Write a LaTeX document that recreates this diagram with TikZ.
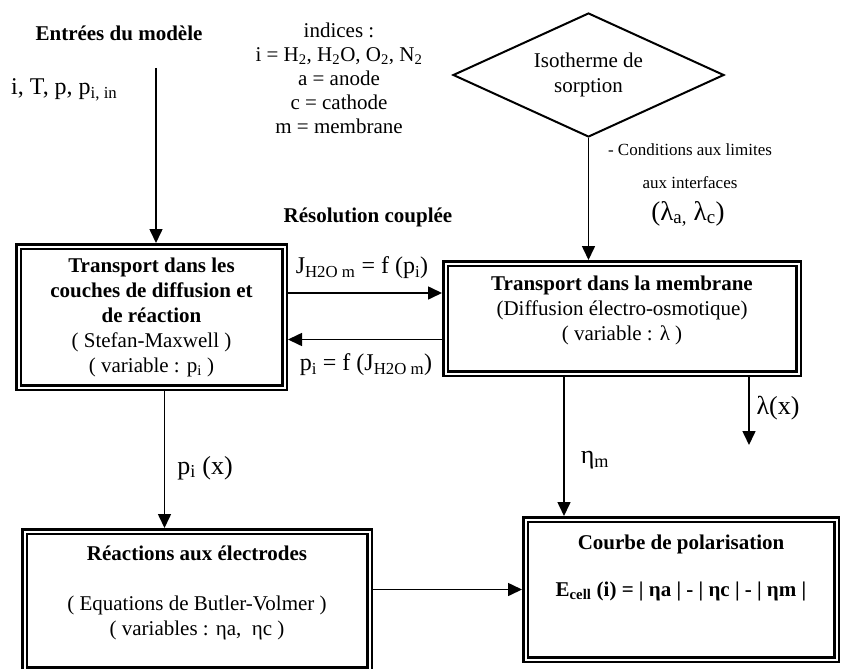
\documentclass[tikz,border=0pt]{standalone}
\usepackage{fontspec}
\setmainfont{Liberation Serif}
\usetikzlibrary{arrows.meta,shapes.geometric,calc}
\tikzset{
  base/.style={font=\fontsize{21}{25}\selectfont, align=center, inner sep=0pt, text=black},
  titre/.style={base, font=\fontsize{21}{25}\selectfont\bfseries},
  petit/.style={base, font=\fontsize{17}{21}\selectfont},
  grand/.style={base, font=\fontsize{26}{30}\selectfont},
  bloc/.style={base, rectangle, draw=black, double=white, double distance=2pt, line width=2.5pt, outer sep=3.5pt},
  dec/.style={base, diamond, draw=black, line width=2pt, aspect=2.18, outer sep=1pt},
  arr/.style={-{Triangle[length=14pt,width=13pt]}, line width=1.6pt, draw=black},
}

\begin{document}
\begin{tikzpicture}[x=1pt,y=-1pt]
  \useasboundingbox (0,0) rectangle (851,669);
  % textes libres
  \node[titre] (entrees) at (119,33) {Entrées du modèle};
  \node[base,font=\fontsize{24}{28}\selectfont,anchor=west] (inputs) at (11,90) {i, T, p, p\textsubscript{i, in}};
  \node[base,font=\fontsize{21}{24}\selectfont] (indices) at (339,78) {indices :\\i = H\textsubscript{2}, H\textsubscript{2}O, O\textsubscript{2}, N\textsubscript{2}\\a = anode\\c = cathode\\m = membrane};
  \node[titre] (resol) at (368,217) {Résolution couplée};
  % isotherme
  \node[dec,minimum width=271pt,minimum height=124pt] (iso) at (588.5,75) {Isotherme de\\sorption};
  \node[petit] (cond1) at (690,150) {- Conditions aux limites};
  \node[petit] (cond2) at (690,183) {aux interfaces};
  \node[base,font=\fontsize{27}{30}\selectfont] (lamac) at (688,214) {(λ\textsubscript{a,} λ\textsubscript{c})};
  % blocs
  \node[bloc,minimum width=266pt,minimum height=141pt] (tcouche) at (151.5,317)
    {\textbf{Transport dans les}\\\textbf{couches de diffusion et}\\\textbf{de réaction}\\( Stefan-Maxwell )\\( variable : p\textsubscript{i} )};
  \node[bloc,minimum width=353pt,minimum height=110pt] (tmemb) at (622,318.5)
    {\textbf{Transport dans la membrane}\\(Diffusion électro-osmotique)\\( variable : λ )\\[-5pt]\mbox{}};
  \node[bloc,minimum width=345pt,minimum height=138pt] (react) at (197,600.5)
    {\textbf{Réactions aux électrodes}\\\mbox{}\\( Equations de Butler-Volmer )\\( variables : ηa,~ ηc )\\[-5pt]\mbox{}};
  \node[bloc,minimum width=311pt,minimum height=140pt] (courbe) at (681,589.5)
    {\textbf{Courbe de polarisation}\\[22pt]\textbf{E\textsubscript{cell} (i) = | ηa | - | ηc | - | ηm |}\\[22pt]\mbox{}};
  % fleches
  \coordinate (inp) at (156,68);
  \draw[arr] (inp) -- (inp |- tcouche.north);
  \draw[arr] (iso.south) -- (iso.south |- tmemb.north);
  \draw[arr] ([yshift=24pt]tcouche.east) -- ([yshift=24pt]tcouche.east -| tmemb.west);
  \draw[arr] ([yshift=-21pt]tmemb.west) -- ([yshift=-21pt]tmemb.west -| tcouche.east);
  \node[base,font=\fontsize{24}{28}\selectfont] (jflux) at (362,268) {J\textsubscript{H2O m} = f (p\textsubscript{i})};
  \node[base,font=\fontsize{24}{28}\selectfont] (pflux) at (366,365) {p\textsubscript{i} = f (J\textsubscript{H2O m})};
  \draw[arr] ([xshift=13pt]tcouche.south) -- ([xshift=13pt]tcouche.south |- react.north);
  \node[grand] (px) at (205,468) {p\textsubscript{i} (x)};
  \draw[arr] ([xshift=-58pt]tmemb.south) -- ([xshift=-58pt]tmemb.south |- courbe.north);
  \node[grand] (etam) at (595,460) {η\textsubscript{m}};
  \coordinate (lamx) at (749,445);
  \draw[arr] (lamx |- tmemb.south) -- (lamx);
  \node[grand] (lx) at (778,408) {λ(x)};
  \draw[arr] (courbe.west -| react.east) -- (courbe.west);
\end{tikzpicture}
\end{document}
